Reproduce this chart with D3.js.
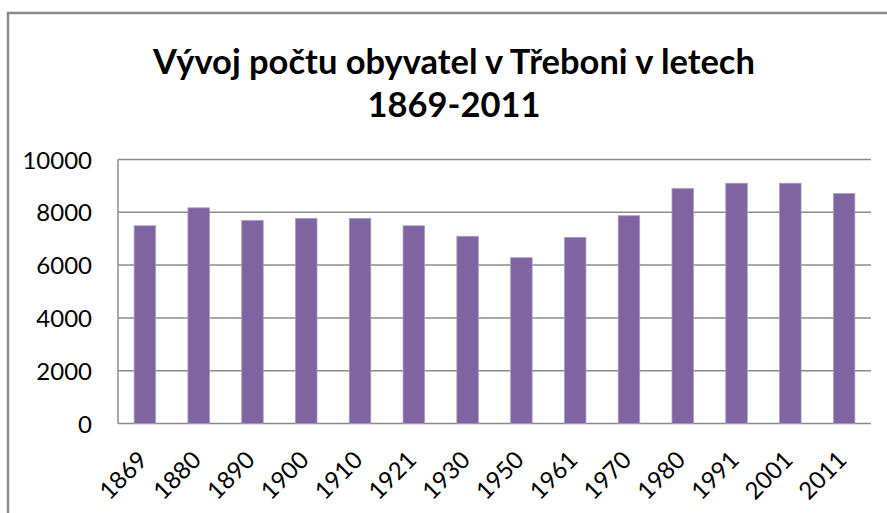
<!DOCTYPE html>
<html lang="cs">
<head>
<meta charset="utf-8">
<title>Vývoj počtu obyvatel v Třeboni</title>
<script src="https://cdnjs.cloudflare.com/ajax/libs/d3/7.8.5/d3.min.js"></script>
<style>
  body { margin: 0; background: #fff; }
  text { font-family: Lato, "Open Sans", sans-serif; fill: #000; }
</style>
</head>
<body>
<div id="chart"></div>
<script>
// data
var years = ["1869", "1880", "1890", "1900", "1910", "1921", "1930",
             "1950", "1961", "1970", "1980", "1991", "2001", "2011"];
var population = [7490, 8170, 7690, 7770, 7770, 7490, 7090,
                  6280, 7050, 7870, 8900, 9100, 9100, 8710];
var yTicks = [0, 2000, 4000, 6000, 8000, 10000];
var titleLines = ["Vývoj počtu obyvatel v Třeboni v letech", "1869-2011"];

var W = 887, H = 513;
var plot = {left: 118, right: 871, top: 159.5, bottom: 423.5};

var svg = d3.select("#chart").append("svg")
    .attr("width", W).attr("height", H);

svg.append("rect").attr("width", W).attr("height", H).attr("fill", "#fff");

// chart frame (runs off the right / bottom edge)
svg.append("rect")
    .attr("x", 8).attr("y", 13)
    .attr("width", 1000).attr("height", 700)
    .attr("fill", "none")
    .attr("stroke", "#8a8a8a")
    .attr("stroke-width", 2.5);

var x = d3.scaleBand()
    .domain(years)
    .range([plot.left, plot.right])
    .paddingInner(0.6)
    .paddingOuter(0.3);

var y = d3.scaleLinear()
    .domain([0, 10000])
    .range([plot.bottom, plot.top]);

// gridlines
svg.append("g")
  .selectAll("line")
  .data(yTicks)
  .enter().append("line")
    .attr("x1", plot.left).attr("x2", plot.right)
    .attr("y1", function(d) { return y(d); })
    .attr("y2", function(d) { return y(d); })
    .attr("stroke", "#8c8c8c")
    .attr("stroke-width", 1.5);

// left axis line
svg.append("line")
    .attr("x1", plot.left).attr("x2", plot.left)
    .attr("y1", plot.top).attr("y2", plot.bottom)
    .attr("stroke", "#8c8c8c")
    .attr("stroke-width", 1.5);

// bars
svg.append("g")
  .selectAll("rect")
  .data(population)
  .enter().append("rect")
    .attr("x", function(d, i) { return x(years[i]); })
    .attr("y", function(d) { return y(d); })
    .attr("width", x.bandwidth())
    .attr("height", function(d) { return y(0) - y(d); })
    .attr("fill", "#8064a2")
    .attr("stroke", "#ab9bc6")
    .attr("stroke-width", 0.8);

// y axis labels
var yAxis = d3.axisLeft(y).tickValues(yTicks).tickSize(0).tickPadding(0)
    .tickFormat(d3.format("d"));
var gy = svg.append("g")
    .attr("transform", "translate(92,0)")
    .call(yAxis);
gy.select(".domain").remove();
gy.selectAll("text")
    .attr("font-size", 24)
    .attr("font-family", "Lato, sans-serif")
    .attr("dy", "0.36em");

// x axis labels, rotated
var xAxis = d3.axisBottom(x).tickSize(0).tickPadding(0);
var gx = svg.append("g")
    .attr("transform", "translate(0," + plot.bottom + ")")
    .call(xAxis);
gx.select(".domain").remove();
gx.selectAll("text")
    .attr("font-size", 24)
    .attr("font-family", "Lato, sans-serif")
    .attr("text-anchor", "end")
    .attr("y", 0)
    .attr("dy", "0")
    .attr("transform", "translate(4,38) rotate(-45)");

// title
var title = svg.append("g");
var baselines = [74, 117];
titleLines.forEach(function(t, i) {
  title.append("text")
    .attr("x", 454)
    .attr("y", baselines[i])
    .attr("text-anchor", "middle")
    .attr("font-weight", "bold")
    .attr("font-size", 33)
    .text(t);
});
// fit first line to its width in the picture
var first = title.select("text").node();
var k = 602 / first.getComputedTextLength();
title.selectAll("text").attr("font-size", 33 * k);
</script>
</body>
</html>
